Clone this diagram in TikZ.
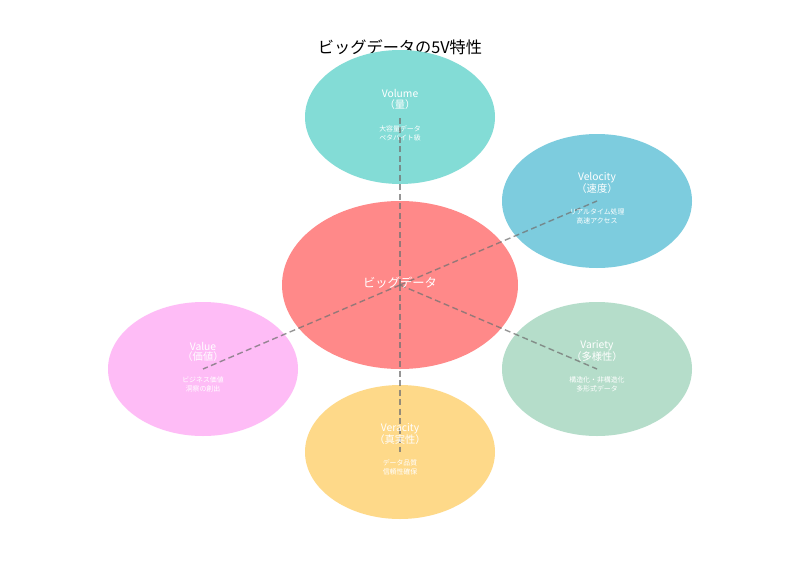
\documentclass[tikz,border=0pt]{standalone}
\usepackage{fontspec}
\setmainfont{Noto Sans CJK JP}
\usetikzlibrary{shapes.geometric}
\definecolor{cmain}{RGB}{255,137,137}
\definecolor{cvol}{RGB}{131,220,214}
\definecolor{cvel}{RGB}{125,204,222}
\definecolor{cvar}{RGB}{181,221,202}
\definecolor{cval}{RGB}{254,188,246}
\definecolor{cver}{RGB}{254,217,137}
\tikzset{
  blob/.style={ellipse, draw=none, inner sep=0pt, minimum width=190pt, minimum height=134pt},
  dashline/.style={draw=black!55, draw opacity=0.75, line width=1.4pt, dash pattern=on 6pt off 3.5pt},
  ttl/.style={text=white, font=\fontsize{10.3}{12}\selectfont, inner sep=0pt, align=center},
  sub/.style={text=white, font=\fontsize{10.3}{12}\selectfont, inner sep=0pt},
  desc/.style={text=white, font=\fontsize{6.9}{9}\selectfont, inner sep=0pt, align=center},
}
\begin{document}
\begin{tikzpicture}[x=1pt,y=-1pt]
\useasboundingbox (0,0) rectangle (800,570);
\fill[white] (0,0) rectangle (800,570);
\node[font=\fontsize{16.2}{19}\selectfont, inner sep=0pt] (title) at (400,47) {ビッグデータの5V特性};
\node[blob, fill=cmain, minimum width=236pt, minimum height=168pt] (main) at (400,285) {};
\node[blob, fill=cvol] (vol) at (400,117) {};
\node[blob, fill=cvel] (vel) at (597,201) {};
\node[blob, fill=cvar] (var) at (597,369) {};
\node[blob, fill=cval] (val) at (203,369) {};
\node[blob, fill=cver] (ver) at (400,452) {};
\draw[dashline] (main.center) -- (vol.center);
\draw[dashline] (main.center) -- (vel.center);
\draw[dashline] (main.center) -- (var.center);
\draw[dashline] (main.center) -- (val.center);
\draw[dashline] (main.center) -- (ver.center);
\node[text=white, font=\fontsize{12.3}{14}\selectfont, inner sep=0pt] (maint) at (400,283) {ビッグデータ};
% Volume
\node[ttl] (volt) at (400,93) {Volume};
\node[sub] (vols) at (400,105) {（量）};
\node[desc] (vold) at (400,133.5) {大容量データ\\ペタバイト級};
% Velocity
\node[ttl] (velt) at (597,178) {Velocity};
\node[sub] (vels) at (597,189) {（速度）};
\node[desc] (veld) at (597,216.5) {リアルタイム処理\\高速アクセス};
% Variety
\node[ttl] (vart) at (597,346) {Variety};
\node[sub] (vars) at (597,357) {（多様性）};
\node[desc] (vard) at (597,384.5) {構造化・非構造化\\多形式データ};
% Value
\node[ttl] (valt) at (203,346) {Value};
\node[sub] (vals) at (203,357) {（価値）};
\node[desc] (vald) at (203,384.5) {ビジネス価値\\洞察の創出};
% Veracity
\node[ttl] (vert) at (400,429) {Veracity};
\node[sub] (vers) at (400,440) {（真実性）};
\node[desc] (verd) at (400,467.5) {データ品質\\信頼性確保};
\end{tikzpicture}
\end{document}
